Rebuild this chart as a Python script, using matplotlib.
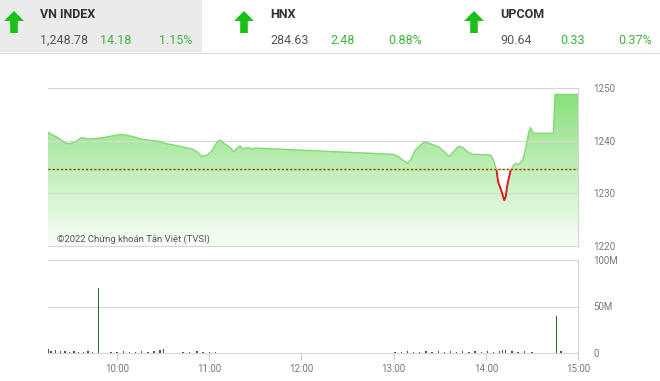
import numpy as np
import matplotlib
matplotlib.use('Agg')
import matplotlib.pyplot as plt
from matplotlib.colors import LinearSegmentedColormap
from matplotlib.patches import Rectangle, Polygon

plt.rcParams['font.family'] = ['Roboto', 'DejaVu Sans']

# header quotes
idx_names = ['VN INDEX', 'HNX', 'UPCOM']
idx_values = ['1,248.78', '284.63', '90.64']
idx_changes = ['14.18', '2.48', '0.33']
idx_pcts = ['1.15%', '0.88%', '0.37%']

ref_price = 1234.60  # previous close

# intraday VN-Index (time, value)
price_times = ['9:15', '9:16', '9:20', '9:23', '9:26', '9:29', '9:33', '9:37', '9:41', '9:46',
               '9:51', '9:57', '10:02', '10:05', '10:10', '10:16', '10:23', '10:27', '10:31',
               '10:36', '10:40', '10:44', '10:49', '10:52', '10:55', '10:59', '11:02', '11:05',
               '11:07', '11:10', '11:14', '11:16', '11:18', '11:20', '11:22', '11:25', '11:28',
               '11:30', '13:00', '13:03', '13:06', '13:09', '13:11', '13:14', '13:18', '13:20',
               '13:23', '13:26', '13:29', '13:33', '13:36', '13:38', '13:42', '13:45', '13:48',
               '13:51', '13:55', '14:00', '14:03', '14:05', '14:07', '14:08', '14:10', '14:12',
               '14:13', '14:14', '14:16', '14:18', '14:20', '14:21', '14:24', '14:26', '14:28',
               '14:29', '14:31', '14:44', '14:45', '15:00']
price_values = [1241.6, 1241.4, 1240.8, 1240.3, 1239.6, 1239.4, 1239.8, 1240.6, 1240.3, 1240.4,
                1240.6, 1240.9, 1241.2, 1241.1, 1240.8, 1240.3, 1240.0, 1239.9, 1239.5,
                1239.2, 1239.0, 1238.7, 1238.4, 1237.9, 1237.0, 1237.3, 1238.2, 1239.8,
                1240.1, 1239.4, 1238.6, 1237.9, 1238.6, 1239.0, 1238.4, 1238.7, 1238.4,
                1238.6, 1237.4, 1237.0, 1236.3, 1235.7, 1236.3, 1238.2, 1239.3, 1239.8,
                1239.5, 1239.2, 1238.9, 1237.9, 1237.0, 1237.6, 1238.9, 1238.7, 1237.9,
                1237.4, 1237.4, 1237.3, 1237.3, 1236.3, 1234.4, 1232.2, 1230.6, 1228.7,
                1229.4, 1231.6, 1234.2, 1235.4, 1235.7, 1235.4, 1236.3, 1238.6, 1241.7,
                1242.5, 1241.4, 1241.4, 1248.78, 1248.78]

# matched volume (time, million shares)
vol_times = ['9:15', '9:17', '9:20', '9:23', '9:26', '9:29', '9:32', '9:35', '9:38', '9:41',
             '9:44', '9:48', '9:56', '10:00', '10:04', '10:08', '10:12', '10:16', '10:20',
             '10:24', '10:28', '10:30', '10:43', '10:47', '10:52', '10:56', '11:00', '11:04',
             '13:01', '13:05', '13:09', '13:13', '13:17', '13:21', '13:25', '13:29', '13:33',
             '13:37', '13:41', '13:45', '13:49', '13:53', '13:57', '14:01', '14:05', '14:09',
             '14:11', '14:13', '14:17', '14:21', '14:25', '14:30', '14:46', '14:49']
vol_values = [4.5, 2.0, 3.0, 2.0, 2.5, 1.5, 2.0, 1.5, 1.0, 2.0,
              1.5, 70.0, 1.5, 1.0, 2.0, 1.5, 1.0, 2.0, 1.5,
              2.0, 3.0, 4.0, 1.5, 1.0, 2.0, 1.0, 1.5, 1.0,
              1.5, 1.0, 2.0, 1.5, 1.0, 2.5, 1.5, 2.0, 1.0,
              2.0, 1.5, 2.5, 1.0, 2.0, 1.5, 2.0, 1.5, 2.5,
              3.0, 3.0, 2.0, 1.5, 2.0, 1.5, 40.0, 2.0]

hour_ticks = [10, 11, 12, 13, 14, 15]
hour_labels = ['10:00', '11:00', '12:00', '13:00', '14:00', '15:00']


def hrs(s):
    h, m = s.split(':')
    return int(h) + int(m) / 60


t = np.array([hrs(s) for s in price_times])
p = np.array(price_values)
tv = np.array([hrs(s) for s in vol_times])
v = np.array(vol_values) * 1e6
x0, x1 = 9.25, 15.0

W, H = 660, 381
fig = plt.figure(figsize=(W / 100, H / 100), dpi=100)

# header strip
hd = fig.add_axes([0, 0, 1, 1])
hd.set_xlim(0, W)
hd.set_ylim(H, 0)
hd.axis('off')
hd.add_patch(Rectangle((0, 0), 202, 52, color='#ebebeb', lw=0))
hd.plot([0, W], [53, 53], color='#e2e2e2', lw=1)
green_txt = '#3db53d'
for i, (name, val, chg, pct) in enumerate(zip(idx_names, idx_values, idx_changes, idx_pcts)):
    ox = 230 * i
    ax_ = 14 + ox
    arrow = Polygon([[ax_, 11], [ax_ + 10, 21], [ax_ + 3.8, 21], [ax_ + 3.8, 33], [ax_ - 3.8, 33],
                     [ax_ - 3.8, 21], [ax_ - 10, 21]], closed=True, color='#18c018', lw=0)
    hd.add_patch(arrow)
    hd.text(40 + ox, 15, name, fontsize=9, fontweight='bold', color='#333333', va='center')
    hd.text(40 + ox, 40, val, fontsize=9, color='#555555', va='center')
    hd.text(100 + ox, 40, chg, fontsize=9, color=green_txt, va='center')
    hd.text(192 + ox, 40, pct, fontsize=9, color=green_txt, va='center', ha='right')

# price chart
ax1 = fig.add_axes([48 / W, 1 - 246 / H, 530 / W, 158 / H])
ax1.set_xlim(x0, x1)
ax1.set_ylim(1220, 1250)
grad_cmap = LinearSegmentedColormap.from_list('g', ['#f8fef7', '#86df78'])
fill = ax1.fill_between(t, p, 1220, color='none', lw=0)
img = ax1.imshow(np.linspace(1, 0, 256).reshape(-1, 1), cmap=grad_cmap, aspect='auto',
                 extent=[x0, x1, 1220, 1250], origin='upper', zorder=1)
img.set_clip_path(fill.get_paths()[0], transform=ax1.transData)
for yv in [1230, 1240]:
    ax1.axhline(yv, color='#d9d9d9', lw=0.8, zorder=2)
up = Rectangle((x0, ref_price), x1 - x0, 30, transform=ax1.transData)
down = Rectangle((x0, 1220), x1 - x0, ref_price - 1220, transform=ax1.transData)
l1, = ax1.plot(t, p, color='#84d877', lw=1, zorder=3)
l1.set_clip_path(up)
l2, = ax1.plot(t, p, color='#d81e1e', lw=1.4, zorder=3)
l2.set_clip_path(down)
ax1.axhline(ref_price, color='#e2d27a', lw=1, zorder=4)
ax1.axhline(ref_price, color='#8a4a1c', lw=1, ls=(0, (1.5, 1.5)), zorder=4)
ax1.set_xticks([])
ax1.yaxis.tick_right()
ax1.set_yticks([1220, 1230, 1240, 1250])
ax1.tick_params(axis='y', length=0, pad=11, labelsize=7, labelcolor='#777777')
ax1.spines['left'].set_visible(False)
for s in ['top', 'right', 'bottom']:
    ax1.spines[s].set_color('#d5d5d5')
    ax1.spines[s].set_linewidth(0.8)
ax1.text(0.017, 0.045, '©2022 Chứng khoán Tân Việt (TVSI)', transform=ax1.transAxes,
         fontsize=6.8, color='#555555', va='center', zorder=5)

# volume chart
ax2 = fig.add_axes([48 / W, 1 - 353 / H, 530 / W, 93 / H])
ax2.set_xlim(x0, x1)
ax2.set_ylim(0, 100e6)
ax2.bar(tv, v, width=0.9 / 60, color='#2e6b2e', lw=0, zorder=3)
ax2.axhline(50e6, color='#d9d9d9', lw=0.8, zorder=1)
ax2.yaxis.tick_right()
ax2.set_yticks([0, 50e6, 100e6])
ax2.set_yticklabels(['0', '50M', '100M'])
ax2.tick_params(axis='y', length=0, pad=11, labelsize=7, labelcolor='#777777')
ax2.set_xticks(hour_ticks)
ax2.set_xticklabels(hour_labels)
ax2.tick_params(axis='x', length=5, width=0.8, color='#cccccc', pad=3, labelsize=7,
                labelcolor='#777777')
ax2.spines['left'].set_visible(False)
for s in ['top', 'right', 'bottom']:
    ax2.spines[s].set_color('#d5d5d5')
    ax2.spines[s].set_linewidth(0.8)

fig.savefig('out.png', dpi=100)
